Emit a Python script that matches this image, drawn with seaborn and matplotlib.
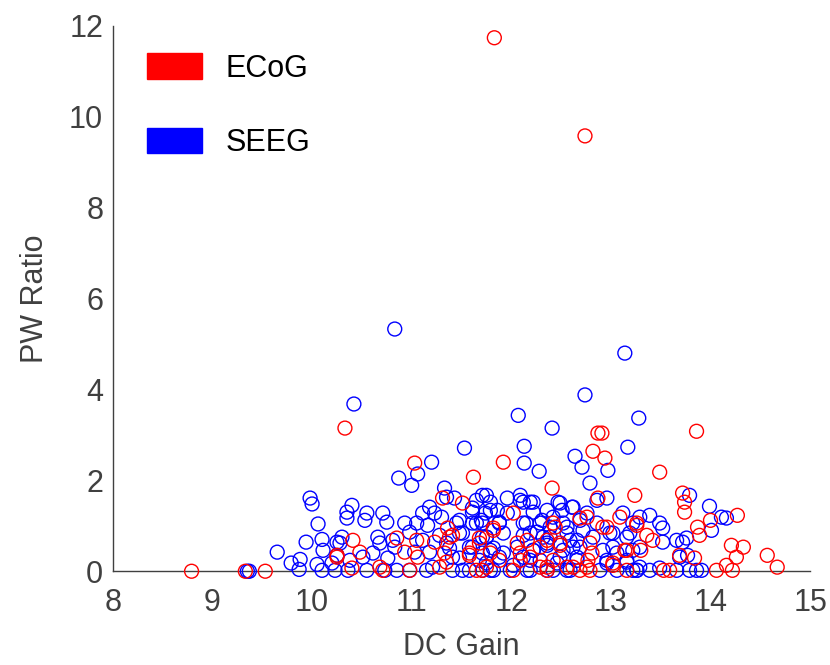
import pandas as pd
import matplotlib
matplotlib.use("Agg")
import matplotlib.pyplot as plt
from matplotlib.patches import Patch
import seaborn as sns

# ── data ──────────────────────────────────────────────────────────────────────
ecog_dc = [
    11.83, 12.74, 10.33, 11.03, 11.92, 11.62, 12.91, 12.87, 12.82, 12.94, 13.86, 13.49,
    8.79, 9.33, 9.53, 10.25,
    11.31, 11.51, 10.41, 10.48, 10.25, 10.85, 11.05, 10.93, 11.06, 11.23, 11.36, 11.41,
    11.33, 11.58, 11.68, 10.40, 10.68, 10.71, 10.98, 11.28, 11.75,
    12.41, 12.87, 13.24, 12.02, 12.69, 12.76, 12.96, 13.09, 11.82, 12.06, 12.16, 12.44,
    12.49, 12.79, 12.81, 12.77, 13.14, 11.79, 11.88, 12.09, 12.29, 12.42, 12.56, 12.76,
    13.02, 11.71, 12.02, 12.69,
    13.72, 13.74, 13.74, 14.27, 14.00, 13.87, 13.89, 13.26, 13.36, 13.42, 14.21, 14.33,
    14.26, 14.57, 14.67, 14.16, 14.06, 14.22, 13.69, 13.84, 13.53, 13.59, 13.30,
    11.82, 11.68, 11.38, 11.58, 11.35, 11.65, 12.09, 12.19, 12.29, 12.36,
    12.92, 13.26, 12.42, 12.36, 12.49, 13.16, 13.02, 12.62, 12.36, 12.79, 13.16,
]
ecog_pw = [
    11.74, 9.58, 3.15, 2.38, 2.40, 2.07, 3.04, 3.04, 2.64, 2.49, 3.08, 2.18,
    0.00, 0.00, 0.00, 0.31,
    1.61, 1.50, 0.68, 0.42, 0.35, 0.73, 0.68, 0.42, 0.31, 0.64, 0.95, 0.79,
    0.40, 0.40, 0.62, 0.07, 0.09, 0.02, 0.02, 0.09, 0.09,
    1.83, 1.61, 1.67, 1.28, 1.17, 1.19, 0.97, 1.19, 0.90, 0.62, 0.68, 0.97,
    0.57, 0.62, 0.40, 0.24, 0.46, 0.40, 0.24, 0.24, 0.09, 0.24, 0.09, 0.09,
    0.13, 0.02, 0.02, 0.02,
    1.72, 1.52, 1.30, 1.23, 1.12, 0.97, 0.79, 1.01, 0.79, 0.68, 0.57, 0.53,
    0.31, 0.35, 0.09, 0.13, 0.02, 0.02, 0.35, 0.29, 0.02, 0.02, 0.46,
    0.95, 0.73, 0.75, 0.35, 0.20, 0.02, 0.40, 0.31, 0.53, 0.09,
    0.97, 1.06, 1.06, 0.68, 0.62, 0.46, 0.18, 0.09, 0.02, 0.02, 0.02,
]

seeg_dc = [
    10.83, 13.14, 10.42, 12.74, 12.07, 12.41, 13.28, 13.17, 11.53, 12.13, 12.13, 12.28,
    12.64, 12.71, 12.97, 11.20, 11.06, 10.87,
    9.98, 10.00, 10.06, 9.94, 10.10, 10.11, 9.65, 9.79, 9.88, 9.87, 10.05, 10.10,
    9.35, 9.37, 10.20, 10.25,
    11.00, 11.33, 10.35, 10.40, 10.35, 10.53, 10.55, 10.71, 10.75, 10.93, 11.05, 11.18,
    11.11, 11.23, 11.16, 11.30, 11.43, 11.65, 11.71, 11.61, 10.30, 10.28, 10.66, 10.68,
    10.81, 10.98, 11.11, 11.28, 11.45, 11.51, 11.61, 11.70, 11.71, 10.25, 10.38, 10.51,
    10.61, 10.76, 10.83, 11.03, 11.18, 11.38, 11.48, 11.58, 11.71, 10.23, 10.36, 10.55,
    10.73, 10.85, 10.98, 11.15, 11.21, 11.41, 11.58, 11.71,
    12.79, 11.75, 11.79, 12.09, 12.12, 12.19, 12.47, 12.86, 12.96, 11.96, 11.74, 11.86,
    11.96, 12.22, 12.36, 12.51, 12.61, 12.42, 11.71, 11.88, 12.15, 12.31, 12.52, 12.69,
    12.86, 13.12, 13.22, 11.75, 11.92, 12.12, 12.26, 12.39, 12.56, 12.66, 12.82, 13.02,
    13.16, 11.79, 11.92, 12.22, 12.36, 12.52, 12.62, 12.92, 13.06, 13.22, 11.75, 12.02,
    12.19, 12.46, 12.66, 12.96, 13.16, 11.82, 12.16, 12.36, 12.56, 12.89, 13.26,
    13.79, 13.99, 14.11, 14.16, 14.01, 13.39, 13.49, 13.52, 13.66, 13.76, 13.72, 13.69,
    13.77, 13.52, 13.26, 13.39, 13.66, 13.79, 13.86, 13.91, 13.49,
    11.35, 11.61, 11.79, 12.09, 12.22, 11.48, 11.65, 11.88, 12.12, 12.29, 11.48, 11.75,
    12.19, 12.32, 11.35, 11.61, 11.82, 12.06, 12.22, 11.41, 11.68, 11.88, 12.12, 12.29,
    11.51, 11.79, 11.99, 12.19,
    12.49, 12.62, 12.76, 13.29, 12.39, 12.56, 12.72, 12.99, 13.19, 12.36, 12.59, 12.69,
    13.02, 13.29, 12.49, 12.66, 12.96, 13.16, 13.29, 12.42, 12.59, 13.06, 13.22,
]
seeg_pw = [
    5.33, 4.80, 3.68, 3.88, 3.43, 3.15, 3.37, 2.73, 2.71, 2.75, 2.38, 2.20,
    2.53, 2.29, 2.22, 2.40, 2.14, 2.05,
    1.61, 1.48, 1.04, 0.64, 0.70, 0.46, 0.42, 0.18, 0.26, 0.04, 0.15, 0.02,
    0.00, 0.00, 0.18, 0.64,
    1.89, 1.83, 1.30, 1.45, 1.17, 1.12, 1.28, 1.28, 1.08, 1.06, 1.06, 1.41,
    1.28, 1.28, 1.01, 1.19, 1.61, 1.56, 1.67, 1.30, 0.75, 0.62, 0.75, 0.62,
    0.68, 0.86, 0.68, 0.79, 1.06, 0.84, 1.06, 1.12, 0.75, 0.35, 0.24, 0.31,
    0.40, 0.29, 0.53, 0.42, 0.42, 0.51, 0.29, 0.53, 0.40, 0.02, 0.02, 0.02,
    0.02, 0.02, 0.02, 0.02, 0.09, 0.02, 0.02, 0.02,
    1.94, 1.67, 1.52, 1.67, 1.52, 1.52, 1.52, 1.56, 1.61, 1.61, 1.28, 1.34,
    1.28, 1.30, 1.34, 1.34, 1.41, 1.19, 1.06, 1.06, 1.06, 1.12, 1.06, 1.12,
    1.06, 1.28, 1.06, 0.75, 0.84, 0.79, 0.86, 0.75, 0.84, 0.68, 0.75, 0.84,
    0.75, 0.46, 0.40, 0.46, 0.57, 0.46, 0.53, 0.46, 0.40, 0.46, 0.18, 0.13,
    0.24, 0.18, 0.24, 0.18, 0.20, 0.02, 0.02, 0.02, 0.02, 0.02, 0.02,
    1.67, 1.43, 1.19, 1.17, 0.90, 1.23, 1.06, 0.95, 0.68, 0.73, 0.64, 0.31,
    0.35, 0.64, 0.02, 0.02, 0.02, 0.02, 0.02, 0.02, 0.07,
    1.63, 1.39, 1.34, 1.56, 1.52, 1.12, 1.06, 1.08, 1.06, 1.06, 0.84, 0.75,
    0.84, 0.75, 0.62, 0.53, 0.51, 0.53, 0.46, 0.31, 0.24, 0.31, 0.31, 0.24,
    0.02, 0.02, 0.02, 0.02,
    1.50, 1.41, 1.28, 1.19, 0.97, 0.97, 0.90, 0.84, 0.84, 0.62, 0.68, 0.53,
    0.53, 0.53, 0.31, 0.31, 0.24, 0.24, 0.09, 0.02, 0.02, 0.02, 0.02,
]

groups = ["ECoG", "SEEG"]
colors = {"ECoG": "#FF0000", "SEEG": "#0000FF"}

df = pd.concat([
    pd.DataFrame({"dc": seeg_dc, "pw": seeg_pw, "group": "SEEG"}),
    pd.DataFrame({"dc": ecog_dc, "pw": ecog_pw, "group": "ECoG"}),
], ignore_index=True)

sns.set_style("white")
plt.rcParams["font.family"] = ["Liberation Sans", "DejaVu Sans"]

fig = plt.figure(figsize=(8.3, 6.65), dpi=100)
ax = fig.add_axes([0.136, 0.141, 0.840, 0.820])

for g in ["SEEG", "ECoG"]:
    sub = df[df["group"] == g]
    sns.scatterplot(data=sub, x="dc", y="pw", ax=ax, marker="o", s=100,
                    facecolors="none", edgecolor=colors[g], linewidth=1.0,
                    legend=False, zorder=3, clip_on=False)

ax.set_xlim(8, 15)
ax.set_ylim(0, 12)
ax.set_xticks(range(8, 16))
ax.set_yticks(range(0, 13, 2))
ax.set_xlabel("DC Gain", fontsize=22, color="#404040", labelpad=10)
ax.set_ylabel("PW Ratio", fontsize=22, color="#404040", labelpad=14)
ax.tick_params(direction="in", length=5, width=1, colors="#404040",
               labelsize=22)
ax.tick_params(axis="x", pad=12)
ax.tick_params(axis="y", pad=7)
sns.despine(ax=ax)
for sp in ["left", "bottom"]:
    ax.spines[sp].set_color("#404040")
    ax.spines[sp].set_linewidth(1)

handles = [Patch(facecolor=colors[g], edgecolor=colors[g]) for g in groups]
ax.legend(handles, groups, loc="upper left", bbox_to_anchor=(0.01, 1.0),
          frameon=False, fontsize=22, handlelength=1.8, handleheight=0.9,
          labelspacing=1.45, handletextpad=0.75, labelcolor="black")

fig.savefig("out.png", dpi=100)
